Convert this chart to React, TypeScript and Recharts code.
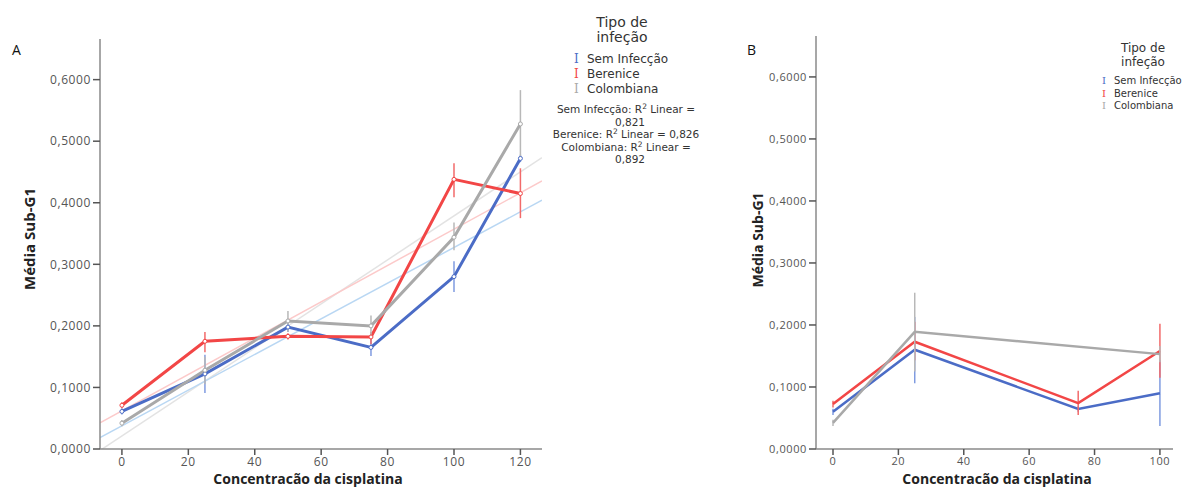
import React from 'react';
import { LineChart, Line, XAxis, YAxis, ErrorBar } from 'recharts';

// Panel A – cisplatin doses and mean Sub-G1 per infection type
const dosesA = [0, 25, 50, 75, 100, 120];
const semA = [0.061, 0.122, 0.198, 0.165, 0.28, 0.472];
const semLoA = [0.056, 0.091, 0.19, 0.151, 0.255, 0.466];
const semHiA = [0.066, 0.153, 0.206, 0.182, 0.305, 0.478];
const berA = [0.071, 0.175, 0.183, 0.182, 0.438, 0.415];
const berLoA = [0.066, 0.157, 0.178, 0.17, 0.409, 0.375];
const berHiA = [0.076, 0.19, 0.188, 0.19, 0.464, 0.456];
const colA = [0.042, 0.128, 0.208, 0.2, 0.344, 0.528];
const colLoA = [0.037, 0.105, 0.19, 0.185, 0.323, 0.47];
const colHiA = [0.047, 0.15, 0.224, 0.217, 0.368, 0.583];

// Panel B
const dosesB = [0, 25, 75, 100];
const semB = [0.06, 0.16, 0.0645, 0.09];
const semLoB = [0.055, 0.106, 0.06, 0.037];
const semHiB = [0.065, 0.213, 0.069, 0.143];
const berB = [0.0726, 0.173, 0.074, 0.158];
const berLoB = [0.067, 0.143, 0.055, 0.115];
const berHiB = [0.078, 0.205, 0.094, 0.202];
const colB = [0.042, 0.189, null, 0.153];
const colLoB = [0.037, 0.125, null, 0.14];
const colHiB = [0.047, 0.252, null, 0.166];

const xTicksA = [0, 20, 40, 60, 80, 100, 120];
const xTicksB = [0, 20, 40, 60, 80, 100];
const yTicks = [0, 0.1, 0.2, 0.3, 0.4, 0.5, 0.6];

const seriesNames = ['Sem Infecção', 'Berenice', 'Colombiana'];
const r2Labels = ['0,821', '0,826', '0,892'];

const BLUE = '#4b6cc6';
const RED = '#f24646';
const GRAY = '#a9a9a9';
const FONT = '"Open Sans", "DejaVu Sans", sans-serif';
const LEGEND_FONT = '"DejaVu Sans", sans-serif';

type Vals = (number | null)[];

function buildRows(doses: number[], sets: [string, Vals, Vals, Vals][]) {
  return doses.map((dose, i) => {
    const row: Record<string, any> = { dose };
    for (const [key, mean, lo, hi] of sets) {
      const m = mean[i];
      row[key] = m;
      row[key + 'Err'] = m == null ? null : [m - (lo[i] as number), (hi[i] as number) - m];
    }
    return row;
  });
}

// least-squares line through the means, spanning the axis range
function linearFit(xs: number[], ys: number[], x0: number, x1: number) {
  const n = xs.length;
  const mx = xs.reduce((s, v) => s + v, 0) / n;
  const my = ys.reduce((s, v) => s + v, 0) / n;
  let sxy = 0;
  let sxx = 0;
  xs.forEach((x, i) => {
    sxy += (x - mx) * (ys[i] - my);
    sxx += (x - mx) * (x - mx);
  });
  const b = sxy / sxx;
  const a = my - b * mx;
  return [
    { dose: x0, fit: a + b * x0 },
    { dose: x1, fit: a + b * x1 },
  ];
}

const domainA: [number, number] = [-6.6, 126.5];
const domainB: [number, number] = [-5.2, 104];
const yDomain: [number, number] = [0, 0.666];

const rowsA = buildRows(dosesA, [
  ['sem', semA, semLoA, semHiA],
  ['ber', berA, berLoA, berHiA],
  ['col', colA, colLoA, colHiA],
]);
const rowsB = buildRows(dosesB, [
  ['sem', semB, semLoB, semHiB],
  ['ber', berB, berLoB, berHiB],
  ['col', colB, colLoB, colHiB],
]);

const fitSem = linearFit(dosesA, semA, domainA[0], domainA[1]);
const fitBer = linearFit(dosesA, berA, domainA[0], domainA[1]);
const fitCol = linearFit(dosesA, colA, domainA[0], domainA[1]);

const fmtY = (v: number) => v.toFixed(4).replace('.', ',');

function Panel(props: {
  rows: Record<string, any>[];
  xDomain: [number, number];
  xTicks: number[];
  width: number;
  margin: { top: number; right: number; bottom: number; left: number };
  tickSize: number;
  lineWidth: number;
  withFits?: boolean;
  dots?: boolean;
}) {
  const { rows, xDomain, xTicks, width, margin, tickSize, lineWidth, withFits, dots } = props;
  const tickStyle = { fill: '#555', fontSize: tickSize, fontFamily: FONT, letterSpacing: 0.6 };
  const dot = (c: string) => (dots ? { r: 2, fill: '#fff', stroke: c, strokeWidth: 1 } : false);
  return (
    <LineChart width={width} height={488} data={rows} margin={margin}>
      <XAxis
        type="number"
        dataKey="dose"
        domain={xDomain}
        ticks={xTicks}
        allowDataOverflow
        height={30}
        tick={tickStyle}
        tickSize={6}
        stroke="#8a8a8a"
        strokeWidth={1.5}
        tickLine={{ stroke: '#555', strokeWidth: 1.5 }}
      />
      <YAxis
        type="number"
        domain={yDomain}
        ticks={yTicks}
        allowDataOverflow
        width={60}
        tick={tickStyle}
        tickFormatter={fmtY}
        tickSize={7}
        stroke="#8a8a8a"
        strokeWidth={1.5}
        tickLine={{ stroke: '#555', strokeWidth: 1.5 }}
      />
      {withFits && (
        <Line data={fitCol} dataKey="fit" stroke="#e3e3e3" strokeWidth={1.5} dot={false} isAnimationActive={false} />
      )}
      {withFits && (
        <Line data={fitBer} dataKey="fit" stroke="#fccaca" strokeWidth={1.5} dot={false} isAnimationActive={false} />
      )}
      {withFits && (
        <Line data={fitSem} dataKey="fit" stroke="#b9d7f3" strokeWidth={1.5} dot={false} isAnimationActive={false} />
      )}
      <Line dataKey="sem" stroke={BLUE} strokeWidth={lineWidth} dot={dot(BLUE)} isAnimationActive={false}>
        <ErrorBar dataKey="semErr" direction="y" width={0} stroke="#7f9be0" strokeWidth={1.5} />
      </Line>
      <Line dataKey="ber" stroke={RED} strokeWidth={lineWidth} dot={dot(RED)} isAnimationActive={false}>
        <ErrorBar dataKey="berErr" direction="y" width={0} stroke="#f26a6a" strokeWidth={1.5} />
      </Line>
      <Line dataKey="col" stroke={GRAY} strokeWidth={lineWidth} dot={dot(GRAY)} connectNulls isAnimationActive={false}>
        <ErrorBar dataKey="colErr" direction="y" width={0} stroke="#b8b8b8" strokeWidth={1.5} />
      </Line>
    </LineChart>
  );
}

const colors = [BLUE, RED, GRAY];

export default function App() {
  return (
    <div style={{ position: 'absolute', left: 0, top: 0, width: 1187, height: 488, background: '#fff', overflow: 'hidden' }}>
      <div style={{ position: 'absolute', left: 0, top: 0 }}>
        <Panel
          rows={rowsA}
          xDomain={domainA}
          xTicks={xTicksA}
          width={600}
          margin={{ top: 39, right: 58, bottom: 9, left: 40 }}
          tickSize={12}
          lineWidth={3}
          withFits
          dots
        />
      </div>
      <div style={{ position: 'absolute', left: 740, top: 0 }}>
        <Panel
          rows={rowsB}
          xDomain={domainB}
          xTicks={xTicksB}
          width={447}
          margin={{ top: 36, right: 14, bottom: 9, left: 16 }}
          tickSize={11}
          lineWidth={2.5}
        />
      </div>
      <svg width={1187} height={488} style={{ position: 'absolute', left: 0, top: 0, pointerEvents: 'none' }} fontFamily={FONT}>
        <text x={12} y={55} fontSize={14} fill="#111">A</text>
        <text x={747} y={55} fontSize={14} fill="#111">B</text>

        <text transform="translate(35,239) rotate(-90)" textAnchor="middle" fontSize={15} fontWeight="bold" fill="#222">
          Média Sub-G1
        </text>
        <text transform="translate(763,240) rotate(-90)" textAnchor="middle" fontSize={14} fontWeight="bold" fill="#222">
          Média Sub-G1
        </text>
        <text x={308} y={484} textAnchor="middle" fontSize={14} fontWeight="bold" fill="#222">
          Concentracão da cisplatina
        </text>
        <text x={997} y={484} textAnchor="middle" fontSize={14} fontWeight="bold" fill="#222">
          Concentracão da cisplatina
        </text>

        <g fontFamily={LEGEND_FONT}>
          {/* legend, panel A */}
          <text x={622} y={27} textAnchor="middle" fontSize={14} fill="#333">Tipo de</text>
          <text x={622} y={42} textAnchor="middle" fontSize={14} fill="#333">infeção</text>
          {seriesNames.map((name, i) => (
            <g key={name}>
              <text x={574} y={63 + i * 15} fontSize={12} fontFamily="DejaVu Serif" fill={colors[i]}>I</text>
              <text x={587} y={63 + i * 15} fontSize={12} fill="#333">{name}</text>
            </g>
          ))}
          <g fontSize={10.5} fill="#333" textAnchor="middle">
            <text x={626} y={113}>
              {seriesNames[0]}: R<tspan dy={-4} fontSize={7.5}>2</tspan><tspan dy={4}> Linear =</tspan>
            </text>
            <text x={630} y={125.5}>{r2Labels[0]}</text>
            <text x={626} y={138}>
              {seriesNames[1]}: R<tspan dy={-4} fontSize={7.5}>2</tspan><tspan dy={4}> Linear = {r2Labels[1]}</tspan>
            </text>
            <text x={626} y={150.5}>
              {seriesNames[2]}: R<tspan dy={-4} fontSize={7.5}>2</tspan><tspan dy={4}> Linear =</tspan>
            </text>
            <text x={630} y={163}>{r2Labels[2]}</text>
          </g>

          {/* legend, panel B */}
          <text x={1143} y={52} textAnchor="middle" fontSize={12} fill="#333">Tipo de</text>
          <text x={1143} y={66} textAnchor="middle" fontSize={12} fill="#333">infeção</text>
          {seriesNames.map((name, i) => (
            <g key={'b' + name}>
              <text x={1102} y={84 + i * 12.5} fontSize={10} fontFamily="DejaVu Serif" fill={colors[i]}>I</text>
              <text x={1114} y={84 + i * 12.5} fontSize={10} fill="#333">{name}</text>
            </g>
          ))}
        </g>
      </svg>
    </div>
  );
}
